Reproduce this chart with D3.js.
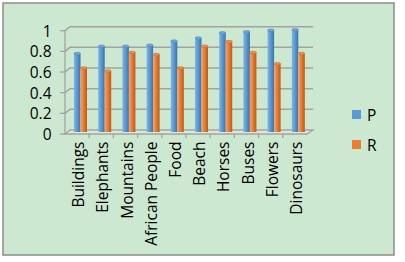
<!DOCTYPE html>
<html><head><meta charset="utf-8">
<script src="https://cdn.jsdelivr.net/npm/d3@7"></script>
<style>body{margin:0;background:#fff}svg{display:block}</style>
</head><body>
<svg id="c" width="405" height="262"></svg>
<script>
const categories = ["Buildings","Elephants","Mountains","African People","Food","Beach","Horses","Buses","Flowers","Dinosaurs"];
const seriesP = [0.75,0.82,0.82,0.83,0.87,0.90,0.95,0.96,0.975,0.98];
const seriesR = [0.61,0.58,0.76,0.74,0.61,0.82,0.865,0.76,0.65,0.75];
const yTicks = [0,0.2,0.4,0.6,0.8,1];
const yTickLabels = ["0","0.2","0.4","0.6","0.8","1"];
const seriesNames = ["P","R"];

const svg = d3.select("#c");
const font = "'Open Sans', Lato, sans-serif";
const catFont = 15.5;
const defs = svg.append("defs");
function grad(id, c1, c2, c3){
  const g = defs.append("linearGradient").attr("id",id).attr("x1","0").attr("x2","1").attr("y1","0").attr("y2","0");
  g.append("stop").attr("offset","0").attr("stop-color",c1);
  g.append("stop").attr("offset","0.45").attr("stop-color",c2);
  g.append("stop").attr("offset","1").attr("stop-color",c3);
}
grad("gP","#7fb4e4","#5b9bd5","#3c73a8");
grad("gR","#f7a46c","#ed7d31","#b95b1a");
const colors = {P:"#5b9bd5", R:"#ed7d31"};

svg.append("rect").attr("x",3).attr("y",3).attr("width",391).attr("height",252)
  .attr("fill","#cde8d0").attr("stroke","#8c8c8c").attr("stroke-width",1.5);

const dx = 5, dy = 4;
const yBack = d3.scaleLinear().domain([0,1]).range([130,26.7]);
const xFront = d3.scaleBand().domain(categories).range([65,307]);
const grid = "#a3a3a3";

const f0 = yBack(0);
svg.append("polygon")
  .attr("points",[[xFront.range()[0],f0+dy],[xFront.range()[1],f0+dy],[xFront.range()[1]+dx+1,f0],[xFront.range()[0]+dx,f0]].map(p=>p.join(",")).join(" "))
  .attr("fill","#d6ecd8").attr("stroke",grid).attr("stroke-width",1.3);

yTicks.forEach(t=>{
  if(t===0) return;
  const yb = yBack(t);
  svg.append("polyline")
    .attr("points",`${65},${yb+dy} ${65+dx},${yb} ${313},${yb}`)
    .attr("fill","none").attr("stroke",grid).attr("stroke-width",1.5);
});

svg.append("line").attr("x1",65).attr("x2",65).attr("y1",yBack(0)+dy).attr("y2",yBack(1)+dy)
  .attr("stroke",grid).attr("stroke-width",1.3);
yTicks.forEach((t,i)=>{
  const yf = yBack(t)+dy;
  svg.append("line").attr("x1",60).attr("x2",65).attr("y1",yf).attr("y2",yf).attr("stroke",grid).attr("stroke-width",1.3);
  svg.append("text").attr("x",51.5).attr("y",yf).attr("text-anchor","end").attr("dominant-baseline","central")
    .attr("font-family",font).attr("font-size",15.5).attr("fill","#000").text(yTickLabels[i]);
});

xFront.domain().forEach((c,i)=>{
  const x = xFront(c);
  if(i>0) svg.append("line").attr("x1",x).attr("x2",x).attr("y1",f0+dy).attr("y2",f0+dy+4).attr("stroke",grid).attr("stroke-width",1.3);
});

const bw = 6.5;
const barBase = f0 + 2;
function drawBar(x, v, key){
  const yt = yBack(v) + 1;
  svg.append("rect").attr("x",x).attr("y",yt).attr("width",bw).attr("height",barBase-yt)
    .attr("fill",`url(#g${key})`);
  svg.append("ellipse").attr("cx",x+bw/2).attr("cy",yt).attr("rx",bw/2).attr("ry",1.3)
    .attr("fill",key==="P"?"#6fa9de":"#f39150").attr("stroke",key==="P"?"#4a86bf":"#c96420").attr("stroke-width",0.6);
}
categories.forEach((c,i)=>{
  const x0 = xFront(c) + 9;
  drawBar(x0, seriesP[i], "P");
  drawBar(x0+bw, seriesR[i], "R");
});

categories.forEach(c=>{
  const cx = xFront(c) + xFront.bandwidth()/2 + 1;
  svg.append("text").attr("transform",`translate(${cx},141.5) rotate(-90)`)
    .attr("text-anchor","end").attr("dominant-baseline","central")
    .attr("font-family",font).attr("font-size",catFont).attr("fill","#000").text(c);
});

seriesNames.forEach((s,i)=>{
  const y = 110 + i*30;
  svg.append("rect").attr("x",352).attr("y",y).attr("width",9).attr("height",9).attr("fill",colors[s]);
  svg.append("text").attr("x",367).attr("y",y+4.5).attr("dominant-baseline","central")
    .attr("font-family",font).attr("font-size",15.5).attr("fill","#000").text(s);
});
</script>
</body></html>
